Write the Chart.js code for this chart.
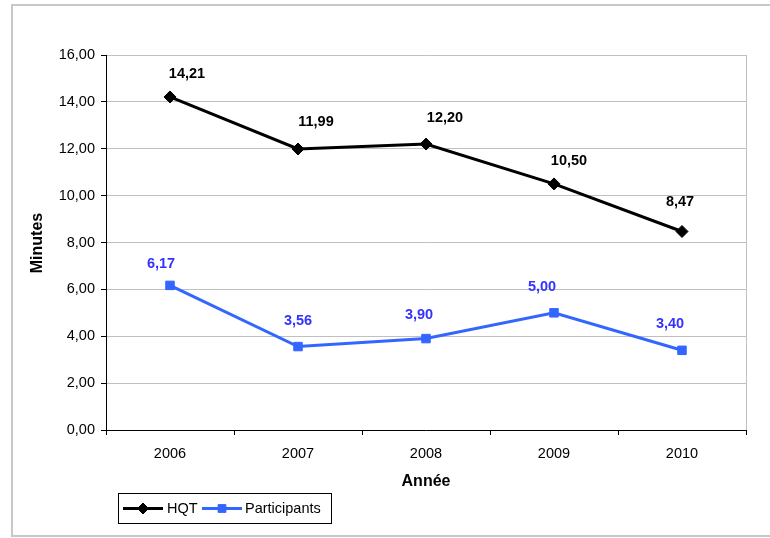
<!DOCTYPE html>
<html>
<head>
<meta charset="utf-8">
<script src="https://cdn.jsdelivr.net/npm/chart.js@4/dist/chart.umd.min.js"></script>
<style>
  html, body { margin: 0; padding: 0; background: #fff; }
  #wrap { width: 770px; height: 538px; }
</style>
</head>
<body>
<div id="wrap"><canvas id="c" width="770" height="538"></canvas></div>
<script>
// Years on the horizontal axis
const years = ['2006', '2007', '2008', '2009', '2010'];

// Average minutes per year
const hqtMinutes = [14.21, 11.99, 12.20, 10.50, 8.47];
const participantMinutes = [6.17, 3.56, 3.90, 5.00, 3.40];

// Value-axis range
const yMin = 0;
const yMax = 16;
const yStep = 2;

// Hand-placed value labels: [dx, dy] from each point
const hqtLabelShift = [[17, -23], [18, -27], [19, -26], [15, -23], [-2, -29]];
const partLabelShift = [[-9, -21], [0, -26], [-7, -24], [-12, -26], [-12, -26]];

const FONT = '"Liberation Sans", Arial, sans-serif';
const BLACK = '#000000';
const BLUE_LINE = '#3366ff';
const BLUE_TEXT = '#3333ff';
const GRID = '#c0c0c0';

const frFmt = v => Number(v).toFixed(2).replace('.', ',');

const decorPlugin = {
  id: 'decor',
  beforeDraw(chart) {
    const ctx = chart.ctx;
    ctx.save();
    ctx.fillStyle = '#fff';
    ctx.fillRect(0, 0, chart.width, chart.height);
    ctx.restore();
  },
  afterDraw(chart) {
    const ctx = chart.ctx;
    const a = chart.chartArea;
    ctx.save();

    // plot area right edge
    ctx.strokeStyle = GRID;
    ctx.lineWidth = 1;
    ctx.beginPath();
    ctx.moveTo(Math.round(a.right) + 0.5, a.top);
    ctx.lineTo(Math.round(a.right) + 0.5, a.bottom);
    ctx.stroke();

    // outer frame
    ctx.strokeStyle = '#c8c8c8';
    ctx.lineWidth = 2;
    ctx.strokeRect(12, 5, 770, 531);

    // value labels
    ctx.font = 'bold 14.5px ' + FONT;
    ctx.textAlign = 'center';
    ctx.textBaseline = 'middle';
    const shifts = [hqtLabelShift, partLabelShift];
    const colors = [BLACK, BLUE_TEXT];
    chart.data.datasets.forEach((ds, di) => {
      const meta = chart.getDatasetMeta(di);
      ctx.fillStyle = colors[di];
      meta.data.forEach((pt, i) => {
        const s = shifts[di][i];
        ctx.fillText(frFmt(ds.data[i]), pt.x + s[0], pt.y + s[1]);
      });
    });

    // axis titles
    ctx.fillStyle = BLACK;
    ctx.font = 'bold 16px ' + FONT;
    ctx.fillText('Année', (a.left + a.right) / 2, 482);
    ctx.save();
    ctx.translate(38, 243);
    ctx.rotate(-Math.PI / 2);
    ctx.fillText('Minutes', 0, 0);
    ctx.restore();

    // legend
    const lx = 118, ly = 493, lw = 213, lh = 30;
    ctx.strokeStyle = BLACK;
    ctx.lineWidth = 1;
    ctx.strokeRect(lx + 0.5, ly + 0.5, lw, lh);
    const cy = ly + 15.5;
    ctx.font = '14.5px ' + FONT;
    ctx.textAlign = 'left';
    const items = [
      { x0: 123, x1: 163, tx: 167, color: BLACK, style: 'rectRot', r: 5.5 },
      { x0: 202, x1: 242, tx: 245, color: BLUE_LINE, style: 'rect', r: 5.5 }
    ];
    items.forEach((it, i) => {
      ctx.strokeStyle = it.color;
      ctx.lineWidth = 3;
      ctx.beginPath();
      ctx.moveTo(it.x0, cy);
      ctx.lineTo(it.x1, cy);
      ctx.stroke();
      ctx.fillStyle = it.color;
      ctx.lineWidth = 1;
      Chart.helpers.drawPoint(ctx, { pointStyle: it.style, radius: it.r, borderWidth: 1 }, (it.x0 + it.x1) / 2, cy);
      ctx.fillStyle = BLACK;
      ctx.fillText(chart.data.datasets[i].label, it.tx, cy);
    });

    ctx.restore();
  }
};

new Chart(document.getElementById('c'), {
  type: 'line',
  data: {
    labels: years,
    datasets: [
      {
        label: 'HQT',
        data: hqtMinutes,
        borderColor: BLACK,
        backgroundColor: BLACK,
        borderWidth: 3,
        pointStyle: 'rectRot',
        pointRadius: 6,
        pointBorderWidth: 1,
        tension: 0
      },
      {
        label: 'Participants',
        data: participantMinutes,
        borderColor: BLUE_LINE,
        backgroundColor: BLUE_LINE,
        borderWidth: 3,
        pointStyle: 'rect',
        pointRadius: 6,
        pointBorderWidth: 1,
        tension: 0
      }
    ]
  },
  options: {
    responsive: false,
    animation: false,
    devicePixelRatio: 1,
    layout: { padding: { left: 0, right: 24, top: 55, bottom: 0 } },
    plugins: {
      legend: { display: false },
      tooltip: { enabled: false },
      title: { display: false }
    },
    scales: {
      x: {
        offset: true,
        afterFit(s) { s.height = 108; },
        grid: {
          offset: true,
          drawOnChartArea: false,
          tickLength: 5,
          tickColor: BLACK,
          lineWidth: 1
        },
        border: { color: BLACK, width: 1 },
        ticks: {
          color: BLACK,
          font: { family: FONT, size: 14.5 },
          padding: 10,
          maxRotation: 0
        }
      },
      y: {
        min: yMin,
        max: yMax,
        afterFit(s) { s.width = 106; },
        grid: {
          color: GRID,
          tickColor: BLACK,
          tickLength: 5,
          lineWidth: 1
        },
        border: { color: BLACK, width: 1 },
        ticks: {
          stepSize: yStep,
          color: BLACK,
          font: { family: FONT, size: 14.5 },
          padding: 6,
          callback: v => frFmt(v)
        }
      }
    }
  },
  plugins: [decorPlugin]
});
</script>
</body>
</html>
